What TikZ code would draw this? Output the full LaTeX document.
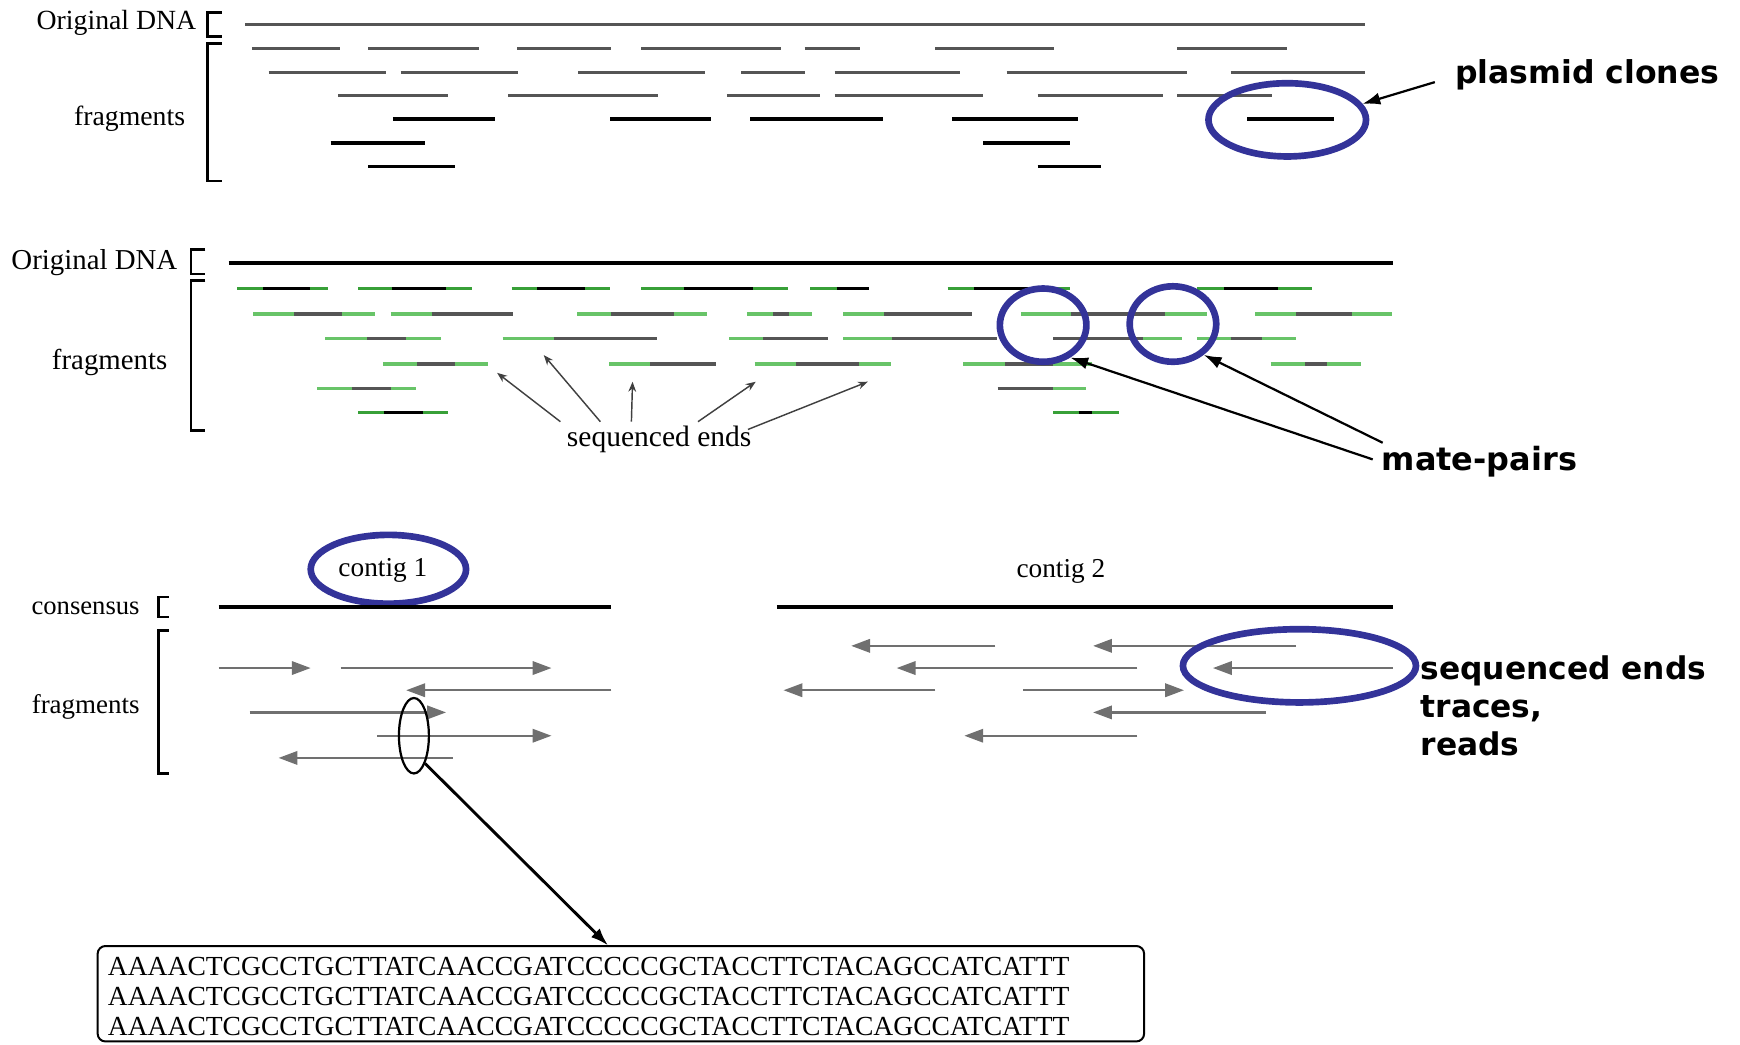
\documentclass[tikz,border=0pt]{standalone}
\usepackage{fontspec}
\setmainfont{Liberation Serif}
\newfontfamily\lblfont{DejaVu Sans}
\usetikzlibrary{arrows.meta,shapes.geometric,calc}
\definecolor{ringblue}{RGB}{51,51,153}
\definecolor{gdark}{RGB}{56,160,56}
\definecolor{glight}{RGB}{104,196,104}
\definecolor{midgray}{RGB}{85,85,85}
\definecolor{arrgray}{RGB}{112,112,112}
\tikzset{
  grayfrag/.style={draw=midgray,line width=2.8pt},
  blackfrag/.style={draw=black,line width=3.3pt},
  gdseg/.style={draw=gdark,line width=3pt},
  glseg/.style={draw=glight,line width=3pt},
  kseg/.style={draw=black,line width=3pt},
  mseg/.style={draw=midgray,line width=3pt},
  brk/.style={draw=black,line width=2.4pt},
  serif/.style={inner sep=0pt,font=\fontsize{#1}{#1}\selectfont},
  boldlbl/.style={inner sep=0pt,font=\lblfont\bfseries\fontsize{#1}{#1}\selectfont},
  ring/.style={ellipse,draw=ringblue,line width=6pt,inner sep=0pt},
  readarrow/.style={draw=arrgray,line width=2.2pt,-{Triangle[length=17pt,width=12pt]}},
  endarrow/.style={draw=black!75,line width=1.3pt,-{Stealth[length=9pt,width=7pt]}},
  callout/.style={draw=black,line width=2pt,-{Latex[length=16pt,width=11pt]}},
  consline/.style={draw=black,line width=3.2pt},
}
\newcommand\fragA[5]{\path[gdseg] (#2,#1)--(#3,#1); \path[kseg] (#3,#1)--(#4,#1); \path[gdseg] (#4,#1)--(#5,#1);}
\newcommand\fragB[5]{\path[glseg] (#2,#1)--(#3,#1); \path[mseg] (#3,#1)--(#4,#1); \path[glseg] (#4,#1)--(#5,#1);}
\begin{document}
\begin{tikzpicture}[x=1pt,y=-1pt]
\useasboundingbox (0,0) rectangle (1568,941);

% ---------------- Section 1 ----------------
\node[serif=25,anchor=east] (sadna) at (177,21) {Original DNA};
\node[serif=25,anchor=east] (safrag) at (167,107) {fragments};
\path[brk] (200,11)--(187,11)--(187,33)--(200,33);
\path[brk] (200,39)--(187,39)--(187,163)--(200,163);
\path[draw=midgray,line width=2.6pt] (221,22)--(1230,22);
\foreach \a/\b in {227/306,332/432,466/551,578/704,725/775,843/950,1061/1160}
  {\path[grayfrag] (\a,44)--(\b,44);}
\foreach \a/\b in {242/348,361/467,521/635,668/725,752/865,907/1070,1109/1230}
  {\path[grayfrag] (\a,65)--(\b,65);}
\foreach \a/\b in {305/404,458/593,655/739,752/886,935/1048,1061/1146}
  {\path[grayfrag] (\a,86)--(\b,86);}
\foreach \a/\b in {354/446,550/641,676/796,858/971,1124/1202}
  {\path[blackfrag] (\a,107)--(\b,107);}
\foreach \a/\b in {298/383,886/964}
  {\path[blackfrag] (\a,129)--(\b,129);}
\foreach \a/\b in {332/410,935/992}
  {\path[blackfrag] (\a,150)--(\b,150);}
\node[ring,minimum width=142pt,minimum height=66pt] (pe) at (1160,108) {};
\node[boldlbl=28.4,anchor=west] (plasmid) at (1311,67) {plasmid clones};
\coordinate (pltail) at (1293,74);
\draw[callout] (pltail) -- (pe.12);

% ---------------- Section 2 ----------------
\node[serif=26,anchor=east] (sbdna) at (160,237) {Original DNA};
\node[serif=26,anchor=east] (sbfrag) at (151,327) {fragments};
\path[brk] (185,225)--(172,225)--(172,247)--(185,247);
\path[brk] (185,253)--(172,253)--(172,388)--(185,388);
\path[consline] (206,237)--(1255,237);
\foreach \a/\b/\c/\d in {214/237/279/296,323/353/402/425,461/484/527/550,578/616/679/710,730/754/783/783,854/878/926/964,1079/1103/1152/1182}
  {\fragA{260}{\a}{\b}{\c}{\d}}
\foreach \a/\b/\c/\d in {228/265/308/338,352/389/462/462,520/551/607/637,673/697/711/732,760/797/876/876,920/965/1050/1088,1131/1168/1218/1254}
  {\fragB{283}{\a}{\b}{\c}{\d}}
\foreach \a/\b/\c/\d in {293/331/366/397,453/499/592/592,657/688/746/746,760/804/898/898,949/949/1030/1065,1079/1109/1137/1168}
  {\fragB{305}{\a}{\b}{\c}{\d}}
\foreach \a/\b/\c/\d in {345/376/410/440,549/586/645/645,680/717/774/803,868/906/949/984,1145/1176/1196/1226}
  {\fragB{328}{\a}{\b}{\c}{\d}}
\foreach \a/\b/\c/\d in {286/317/352/375,899/899/949/979}
  {\fragB{350}{\a}{\b}{\c}{\d}}
\foreach \a/\b/\c/\d in {323/346/381/404,949/972/984/1008}
  {\fragA{372}{\a}{\b}{\c}{\d}}

\node[serif=26.6] (seqtxt) at (594,396) {sequenced ends};
\coordinate (st1) at (505,380); \coordinate (sh1) at (448,336);
\coordinate (st2) at (541,380); \coordinate (sh2) at (490,320);
\coordinate (st3) at (569,380); \coordinate (sh3) at (570,344);
\coordinate (st4) at (629,380); \coordinate (sh4) at (681,344);
\coordinate (st5) at (674,387); \coordinate (sh5) at (782,344);
\foreach \i in {1,...,5} {\draw[endarrow] (st\i) -- (sh\i);}

\node[ring,minimum width=78pt,minimum height=66pt] (mpa) at (940,293) {};
\node[ring,minimum width=78pt,minimum height=68pt] (mpb) at (1057,292) {};
\node[boldlbl=28.8,anchor=west] (mate) at (1245,416) {mate-pairs};
\coordinate (mta) at (1237,414);
\coordinate (mtb) at (1246,399);
\draw[callout] (mta) -- (mpa.-50);
\draw[callout] (mtb) -- (mpb.-45);

% ---------------- Section 3 ----------------
\node[serif=24.6] (cga) at (345,514) {contig 1};
\node[ring,minimum width=140pt,minimum height=62pt] (cgring) at (350,513) {};
\node[serif=24.6] (cgb) at (956,515) {contig 2};
\node[serif=24,anchor=east] (cons) at (126,548) {consensus};
\node[serif=24.3,anchor=east] (scfrag) at (126,637) {fragments};
\path[brk] (152,538)--(143,538)--(143,556)--(152,556);
\path[brk] (152,568)--(143,568)--(143,697)--(152,697);
\path[consline] (197,547)--(551,547);
\path[consline] (700,547)--(1255,547);

\draw[readarrow] (197,602)--(280,602);
\draw[readarrow] (307,602)--(497,602);
\draw[readarrow] (551,622)--(366,622);
\draw[readarrow] (225,642)--(402,642);
\draw[readarrow] (340,663)--(497,663);
\draw[readarrow] (408,683)--(251,683);

\draw[readarrow] (897,582)--(767,582);
\draw[readarrow] (1168,582)--(985,582);
\draw[readarrow] (1025,602)--(808,602);
\draw[readarrow] (1255,602)--(1093,602);
\draw[readarrow] (843,622)--(706,622);
\draw[readarrow] (922,622)--(1067,622);
\draw[readarrow] (1141,642)--(985,642);
\draw[readarrow] (1025,663)--(869,663);

\node[ring,minimum width=210pt,minimum height=66pt] (sering) at (1171,600) {};
\node[anchor=west,align=left,inner sep=0pt,font=\lblfont\bfseries\fontsize{28.2}{34}\selectfont] (selbl) at (1280,636) {sequenced ends\\traces,\\reads};

\node[ellipse,draw=black,line width=2pt,minimum width=27pt,minimum height=68pt,inner sep=0pt] (zoomell) at (373,663) {};
\node[draw=black,line width=1.8pt,rounded corners=7pt,minimum width=943pt,minimum height=86pt,inner sep=0pt] (dnabox) at (559.5,895.5) {};
\node[inner sep=0pt,anchor=west,align=left,font=\fontsize{24.85}{27}\selectfont] (dnatext) at (97,898) {AAAACTCGCCTGCTTATCAACCGATCCCCCGCTACCTTCTACAGCCATCATTT\\AAAACTCGCCTGCTTATCAACCGATCCCCCGCTACCTTCTACAGCCATCATTT\\AAAACTCGCCTGCTTATCAACCGATCCCCCGCTACCTTCTACAGCCATCATTT};
\coordinate (boxin) at (548,852);
\draw[draw=black,line width=2.6pt,-{Latex[length=16pt,width=11pt]}] (zoomell.-68) -- (boxin);
\end{tikzpicture}
\end{document}
